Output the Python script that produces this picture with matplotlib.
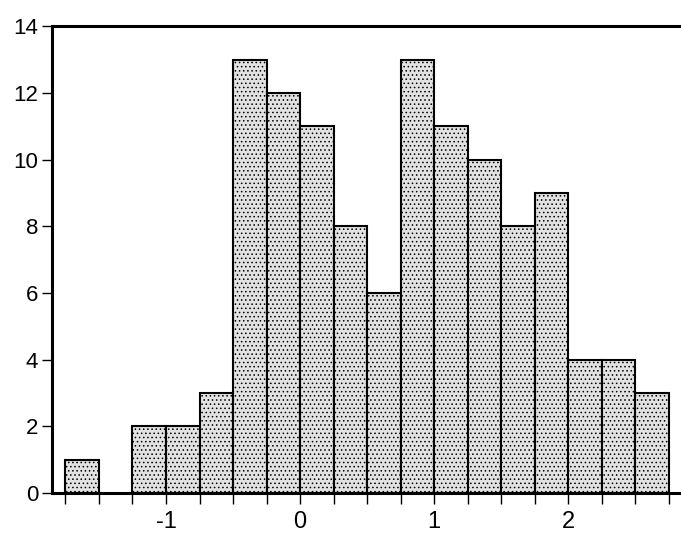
import matplotlib.pyplot as plt
import numpy as np

plt.rcParams['font.family'] = ['Liberation Sans', 'DejaVu Sans']
plt.rcParams['axes.unicode_minus'] = False

# histogram bins (width 0.25) and counts
bin_edges = [-1.75, -1.5, -1.25, -1.0, -0.75, -0.5, -0.25, 0.0, 0.25,
             0.5, 0.75, 1.0, 1.25, 1.5, 1.75, 2.0, 2.25, 2.5, 2.75]
counts = [1, 0, 2, 2, 3, 13, 12, 11, 8, 6, 13, 11, 10, 8, 9, 4, 4, 3]
xticks = [-1, 0, 1, 2]
yticks = [0, 2, 4, 6, 8, 10, 12, 14]

fig = plt.figure(figsize=(6.81, 5.35), dpi=100)
ax = fig.add_axes([0.0764, 0.0785, 0.9236, 0.8725])

lefts = np.array(bin_edges[:-1])
widths = np.diff(bin_edges)
heights = np.array(counts)
keep = heights > 0
plt.rcParams['hatch.linewidth'] = 0.6
plt.rcParams['hatch.color'] = '#555555'
ax.bar(lefts[keep], heights[keep], width=widths[keep], align='edge',
       facecolor='#e2e2e2', edgecolor='black', linewidth=1.5,
       hatch='....', zorder=2)

ax.set_xlim(-1.85, 2.84)
ax.set_ylim(0, 14)
ax.set_xticks(xticks)
ax.set_xticks(bin_edges, minor=True)
ax.set_yticks(yticks)

for side in ['left', 'bottom', 'top']:
    ax.spines[side].set_linewidth(2.2)
ax.spines['right'].set_visible(False)

ax.tick_params(axis='x', which='both', direction='out', length=8, width=1,
               labelsize=17, pad=5)
ax.tick_params(axis='y', direction='out', length=7, width=1,
               labelsize=16, pad=3)

fig.savefig('out.png', dpi=100)
plt.close(fig)
